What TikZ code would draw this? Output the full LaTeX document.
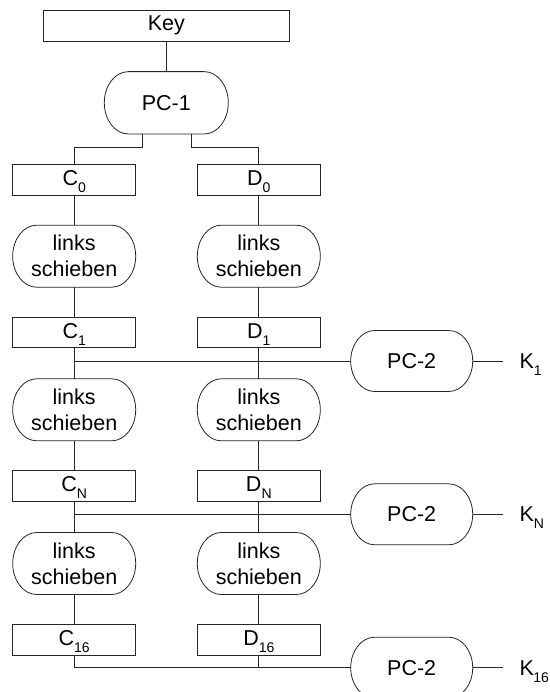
\documentclass[tikz,border=0pt]{standalone}
\usepackage{fontspec}
\setmainfont{Liberation Sans}
\usetikzlibrary{calc}
\tikzset{
  conn/.style={line width=0.8pt, draw=black!85},
  lbl/.style={inner sep=0pt, outer sep=0pt, align=center, font=\fontsize{21.5}{26}\selectfont},
  box/.style={lbl, draw=black!85, line width=0.8pt, minimum width=123pt, minimum height=31pt},
}
\newcommand\subs[1]{\raisebox{-7pt}[0pt][4pt]{\fontsize{14}{14}\selectfont #1}}
\newcommand\stad[6]{%
  \node[lbl, minimum width=#4pt, minimum height=#5pt] (#1) at (#2,#3) {#6};
  \draw[conn] ($(#1.north west)+(24,0)$) -- ($(#1.north east)+(-24,0)$)
     arc[start angle=90, end angle=-90, x radius=24, y radius=#5/2]
     -- ($(#1.south west)+(24,0)$)
     arc[start angle=270, end angle=90, x radius=24, y radius=#5/2] -- cycle;
}
\begin{document}
\begin{tikzpicture}[x=1pt,y=1pt]
\clip (0,0) rectangle (549,-692);
\fill[white] (0,0) rectangle (549,-692);

% Key and PC-1
\node[box, minimum width=246pt, minimum height=31.3pt] (key) at (166.3,-25.7) {Key};
\stad{pc1}{166.3}{-102.8}{124}{62.3}{PC-1}

% Columns
\node[box] (c0) at (74.2,-179.7) {C\subs{0}};
\node[box] (d0) at (258.8,-179.7) {D\subs{0}};
\stad{lsc1}{74.2}{-256.2}{123}{62}{links\\schieben}
\stad{lsd1}{258.8}{-256.2}{123}{62}{links\\schieben}
\node[box, minimum height=30pt] (c1) at (74.2,-332.7) {C\subs{1}};
\node[box, minimum height=30pt] (d1) at (258.8,-332.7) {D\subs{1}};
\stad{lsc2}{74.2}{-409.8}{123}{62}{links\\schieben}
\stad{lsd2}{258.8}{-409.8}{123}{62}{links\\schieben}
\node[box] (cn) at (74.2,-486.3) {C\subs{N}};
\node[box] (dn) at (258.8,-486.3) {D\subs{N}};
\stad{lsc3}{74.2}{-563.5}{123}{62}{links\\schieben}
\stad{lsd3}{258.8}{-563.5}{123}{62}{links\\schieben}
\node[box] (c16) at (74.2,-639.7) {C\subs{16}};
\node[box] (d16) at (258.8,-639.7) {D\subs{16}};

% PC-2 blocks
\stad{pca}{411.7}{-361}{122}{61}{PC-2}
\stad{pcb}{411.7}{-514.3}{122}{61}{PC-2}
\stad{pcc}{411.7}{-667.7}{122}{61}{PC-2}

% K labels
\node[lbl, anchor=west] (k1) at (519.5,-363) {K\subs{1}};
\node[lbl, anchor=west] (kn) at (519.5,-516.3) {K\subs{N}};
\node[lbl, anchor=west] (k16) at (519.5,-669.7) {K\kern-0.5pt\subs{16}};

% Connectors
\draw[conn] (key.south) -- (pc1.north);
\draw[conn] ($(pc1.south)+(-24,0)$) -- ++(0,-13.7) -| (c0.north);
\draw[conn] ($(pc1.south)+(24.7,0)$) -- ++(0,-13.7) -| (d0.north);

\draw[conn] (c0.south) -- (lsc1.north);
\draw[conn] (lsc1.south) -- (c1.north);
\draw[conn] (c1.south) -- (lsc2.north);
\draw[conn] (lsc2.south) -- (cn.north);
\draw[conn] (cn.south) -- (lsc3.north);
\draw[conn] (lsc3.south) -- (c16.north);

\draw[conn] (d0.south) -- (lsd1.north);
\draw[conn] (lsd1.south) -- (d1.north);
\draw[conn] (d1.south) -- (lsd2.north);
\draw[conn] (lsd2.south) -- (dn.north);
\draw[conn] (dn.south) -- (lsd3.north);
\draw[conn] (lsd3.south) -- (d16.north);

\draw[conn] (c1.south) |- (pca.west);
\draw[conn] (cn.south) |- (pcb.west);
\draw[conn] (c16.south) |- (pcc.west);
\draw[conn] (d1.south) |- (pca.west);
\draw[conn] (dn.south) |- (pcb.west);
\draw[conn] (d16.south) |- (pcc.west);

\draw[conn, shorten >=16.5pt] (pca.east) -- (pca.east -| k1.west);
\draw[conn, shorten >=16.5pt] (pcb.east) -- (pcb.east -| kn.west);
\draw[conn, shorten >=16.5pt] (pcc.east) -- (pcc.east -| k16.west);
\end{tikzpicture}
\end{document}
